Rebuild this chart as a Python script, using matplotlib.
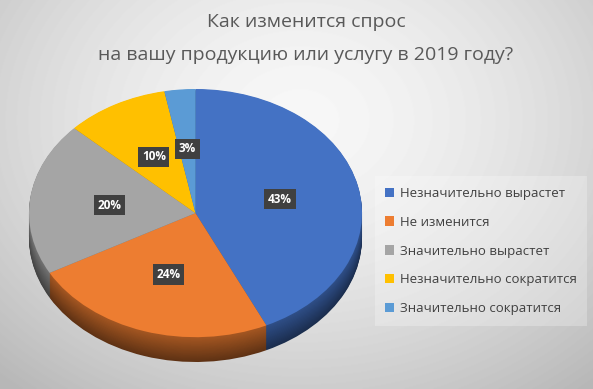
import numpy as np
import matplotlib.pyplot as plt
import matplotlib.colors as mcolors
from matplotlib.patches import Patch

title = 'Как изменится спрос\nна вашу продукцию или услугу в 2019 году?'
categories = ['Незначительно вырастет', 'Не изменится', 'Значительно вырастет',
              'Незначительно сократится', 'Значительно сократится']
shares = [43, 24, 20, 10, 3]
colors = ['#4472C4', '#ED7D31', '#A5A5A5', '#FFC000', '#5B9BD5']

plt.rcParams['font.family'] = ['Open Sans', 'DejaVu Sans']

W, H = 593, 389
fig = plt.figure(figsize=(W / 100, H / 100), dpi=100)

# radial background, light in the upper middle, grey to the corners
bg = fig.add_axes([0, 0, 1, 1])
yy, xx = np.mgrid[0:H, 0:W]
r = np.hypot((xx - 300) / 420, (yy - 120) / 330)
shade = np.clip(0.97 - 0.23 * r ** 1.6, 0.72, 1)
bg.imshow(shade, cmap='gray', vmin=0, vmax=1, aspect='auto', extent=(0, 1, 0, 1))
bg.axis('off')

# pie axes: unit circle mapped onto the tilted ellipse
depth = 0.2
ax = fig.add_axes([29 / W, 27 / H, 333 / W, 273 / H])
ax.set_facecolor('none')


def darker(c, k):
    rgb = np.array(mcolors.to_rgb(c))
    return tuple(rgb * k)


# extruded side: stacked pies, darker lower down
layers = np.linspace(depth, 0.005, 30)
for i, off in enumerate(layers):
    k = 0.4 + 0.3 * i / len(layers)
    ax.pie(shares, colors=[darker(c, k) for c in colors], startangle=90,
           counterclock=False, center=(0, -off), radius=1,
           wedgeprops=dict(linewidth=0))

wedges, _, autotexts = ax.pie(
    shares, colors=colors, startangle=90, counterclock=False, radius=1,
    autopct='%d%%', pctdistance=0.52, wedgeprops=dict(linewidth=0),
    textprops=dict(color='white', fontsize=8.5, fontweight='bold'))
for t in autotexts:
    t.set_bbox(dict(boxstyle='square,pad=0.3', fc='#404040', ec='none'))

ax.set_aspect('auto')
ax.set_xlim(-1, 1)
ax.set_ylim(-1 - depth, 1)
ax.axis('off')

fig.text(0.516, 0.967, title, ha='center', va='top', fontsize=14,
         color='#595959', linespacing=2.1)

handles = [Patch(facecolor=c, edgecolor='none') for c in colors]
leg = fig.legend(handles, categories, loc='center left',
                 bbox_to_anchor=(368 / W, 1 - 251 / H), frameon=True,
                 fontsize=9.5, labelspacing=1.2, handlelength=0.7,
                 handleheight=0.7, handletextpad=0.4, borderpad=0.8,
                 fancybox=False)
leg.get_frame().set_facecolor('white')
leg.get_frame().set_alpha(0.25)
leg.get_frame().set_edgecolor('none')
for t in leg.get_texts():
    t.set_color('#404040')

fig.savefig('out.png', dpi=100)
